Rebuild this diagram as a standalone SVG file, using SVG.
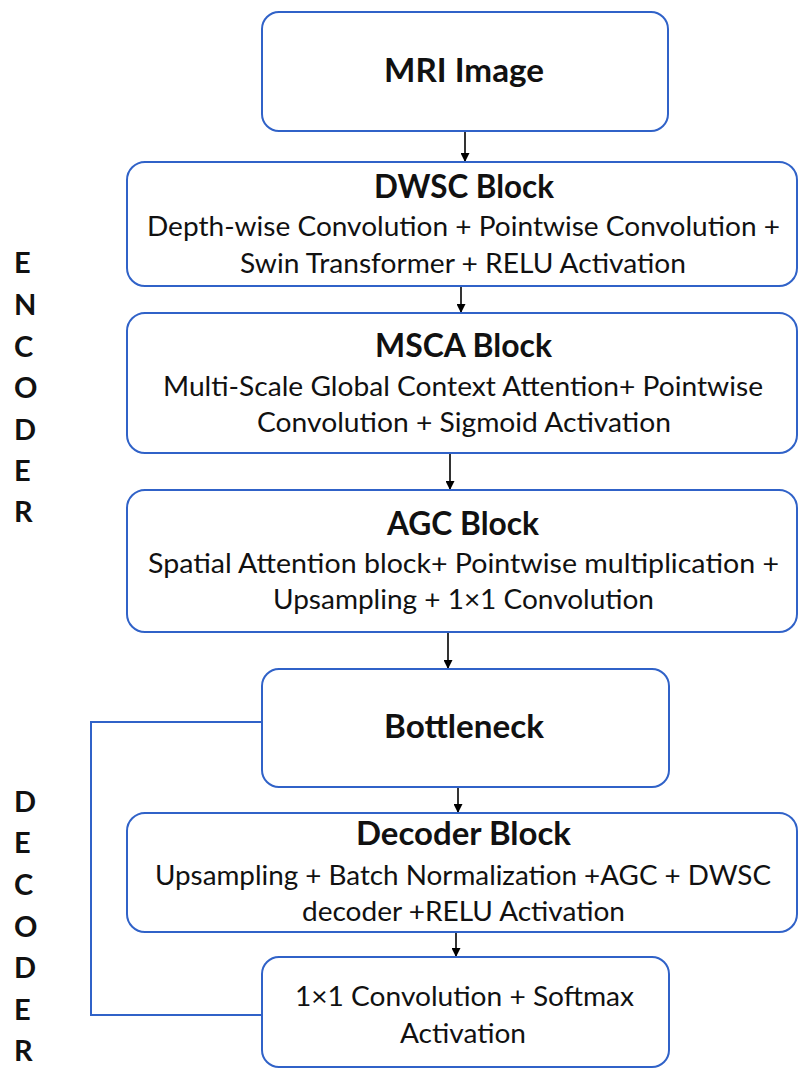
<svg xmlns="http://www.w3.org/2000/svg" width="798" height="1068" viewBox="0 0 798 1068">
<style>
.box{fill:#ffffff;stroke:#3062c8;stroke-width:2}
.t{font-family:Lato,"Liberation Sans",sans-serif;font-weight:bold;font-size:32px;fill:#111;text-anchor:middle}
.b{font-family:Lato,"Liberation Sans",sans-serif;font-size:27px;fill:#111;text-anchor:middle}
.side{font-family:Lato,"Liberation Sans",sans-serif;font-weight:bold;font-size:29px;fill:#111}
.arr{stroke:#000;stroke-width:1.6;fill:none;marker-end:url(#ah)}
.fb{stroke:#3062c8;stroke-width:2;fill:none}
</style>
<defs>
<marker id="ah" viewBox="0 0 10 10" refX="10" refY="5" markerWidth="9" markerHeight="9" markerUnits="userSpaceOnUse" orient="auto">
<path d="M0,0 L10,5 L0,10 z" fill="#000"/>
</marker>
</defs>
<rect width="798" height="1068" fill="#ffffff"/>

<g id="side-labels">
<text class="side" x="14" y="273">E</text>
<text class="side" x="14" y="315">N</text>
<text class="side" x="14" y="357">C</text>
<text class="side" x="14" y="398">O</text>
<text class="side" x="14" y="440">D</text>
<text class="side" x="14" y="481">E</text>
<text class="side" x="14" y="522">R</text>
<text class="side" x="14" y="812">D</text>
<text class="side" x="14" y="853">E</text>
<text class="side" x="14" y="895">C</text>
<text class="side" x="14" y="937">O</text>
<text class="side" x="14" y="978">D</text>
<text class="side" x="14" y="1020">E</text>
<text class="side" x="14" y="1061">R</text>
</g>

<g id="connectors">
<line class="arr" x1="465" y1="131" x2="465" y2="162"/>
<line class="arr" x1="461" y1="286" x2="461" y2="313"/>
<line class="arr" x1="450" y1="453" x2="450" y2="490"/>
<line class="arr" x1="448" y1="632" x2="448" y2="669"/>
<line class="arr" x1="458" y1="787" x2="458" y2="813"/>
<line class="arr" x1="456" y1="932" x2="456" y2="957"/>
<polyline class="fb" points="262,722 91,722 91,1015 262,1015"/>
</g>

<g id="mri">
<rect class="box" x="262" y="12" width="406" height="119" rx="17"/>
<text class="t" x="464" y="82" textLength="160" lengthAdjust="spacingAndGlyphs">MRI Image</text>
</g>

<g id="dwsc">
<rect class="box" x="127" y="162" width="670" height="124" rx="18"/>
<text class="t" x="464" y="198" textLength="180" lengthAdjust="spacingAndGlyphs">DWSC Block</text>
<text class="b" x="463.5" y="236" textLength="633" lengthAdjust="spacingAndGlyphs">Depth-wise Convolution + Pointwise Convolution +</text>
<text class="b" x="463" y="273" textLength="446" lengthAdjust="spacingAndGlyphs">Swin Transformer + RELU Activation</text>
</g>

<g id="msca">
<rect class="box" x="127" y="313" width="670" height="140" rx="18"/>
<text class="t" x="463.5" y="357" textLength="177" lengthAdjust="spacingAndGlyphs">MSCA Block</text>
<text class="b" x="463" y="396" textLength="600" lengthAdjust="spacingAndGlyphs">Multi-Scale Global Context Attention+ Pointwise</text>
<text class="b" x="464" y="432" textLength="414" lengthAdjust="spacingAndGlyphs">Convolution + Sigmoid Activation</text>
</g>

<g id="agc">
<rect class="box" x="127" y="490" width="670" height="142" rx="18"/>
<text class="t" x="463" y="535" textLength="152" lengthAdjust="spacingAndGlyphs">AGC Block</text>
<text class="b" x="463.5" y="573" textLength="631" lengthAdjust="spacingAndGlyphs">Spatial Attention block+ Pointwise multiplication +</text>
<text class="b" x="463.5" y="609" textLength="381" lengthAdjust="spacingAndGlyphs">Upsampling + 1×1 Convolution</text>
</g>

<g id="bottleneck">
<rect class="box" x="262" y="669" width="407" height="118" rx="17"/>
<text class="t" x="464" y="738" textLength="160" lengthAdjust="spacingAndGlyphs">Bottleneck</text>
</g>

<g id="decoder">
<rect class="box" x="127" y="813" width="670" height="119" rx="18"/>
<text class="t" x="463.5" y="845" textLength="215" lengthAdjust="spacingAndGlyphs">Decoder Block</text>
<text class="b" x="463" y="885" textLength="616" lengthAdjust="spacingAndGlyphs">Upsampling + Batch Normalization +AGC + DWSC</text>
<text class="b" x="463.5" y="921" textLength="323" lengthAdjust="spacingAndGlyphs">decoder +RELU Activation</text>
</g>

<g id="output">
<rect class="box" x="262" y="957" width="407" height="110" rx="17"/>
<text class="b" x="464.5" y="1006" textLength="339" lengthAdjust="spacingAndGlyphs">1×1 Convolution + Softmax</text>
<text class="b" x="463" y="1043" textLength="126" lengthAdjust="spacingAndGlyphs">Activation</text>
</g>
</svg>
